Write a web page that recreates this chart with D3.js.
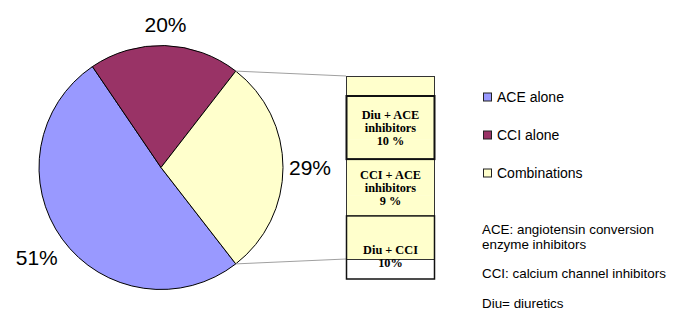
<!DOCTYPE html>
<html>
<head>
<meta charset="utf-8">
<script src="https://cdn.jsdelivr.net/npm/d3@7"></script>
<style>
  body { margin: 0; background: #fff; }
  svg { display: block; font-family: Arial, "Liberation Sans", sans-serif; }
</style>
</head>
<body>
<div id="chart"></div>
<script>
// pie data
const categories = ["ACE alone", "CCI alone", "Combinations"];
const shares = [51, 20, 29];
const colors = ["#9999FF", "#993366", "#FFFFCC"];

// breakdown of the combinations slice
const comboLabels = [["Diu + ACE", "inhibitors", "10 %"], ["CCI + ACE", "inhibitors", "9 %"], ["Diu + CCI", "10%"]];
const comboValues = [10, 9, 10];

const notes = [["ACE: angiotensin conversion", "enzyme inhibitors"], ["CCI: calcium channel inhibitors"], ["Diu= diuretics"]];

const width = 695, height = 336;
const cx = 161, cy = 167.5, r = 122;

const svg = d3.select("#chart").append("svg")
    .attr("width", width)
    .attr("height", height);

// combinations slice is centred on 3 o'clock
const comboShare = shares[2] / d3.sum(shares);
const start = Math.PI / 2 + comboShare * Math.PI;

const pie = d3.pie().sort(null).value(d => d)
    .startAngle(start).endAngle(start + 2 * Math.PI);
const arcs = pie(shares);
const arc = d3.arc().innerRadius(0).outerRadius(r);

const g = svg.append("g").attr("transform", `translate(${cx},${cy})`);

g.selectAll("path")
    .data(arcs)
    .enter()
    .append("path")
    .attr("d", arc)
    .attr("fill", (d, i) => colors[i])
    .attr("stroke", "#000")
    .attr("stroke-width", 1);

// percent labels outside the pie
const labelFont = 21;
g.selectAll("text.pct")
    .data(arcs)
    .enter()
    .append("text")
    .attr("class", "pct")
    .text(d => d.data + "%")
    .attr("font-size", labelFont + "px")
    .attr("text-anchor", "middle")
    .attr("dominant-baseline", "central")
    .each(function(d) {
        const a = (d.startAngle + d.endAngle) / 2;
        const w = this.getComputedTextLength();
        const h = labelFont * 0.72;
        const s = Math.sin(a), c = -Math.cos(a);
        const rr = r + 6 + Math.sqrt(Math.abs(s)) * w / 2 + Math.abs(c) * h * 0.75;
        d3.select(this).attr("x", s * rr).attr("y", c * rr);
    });

// bar of combinations
const barX0 = 346, barX1 = 435;
const total = d3.sum(comboValues);
const y = d3.scaleLinear().domain([0, total]).range([76, 259]);
const cum = [0];
comboValues.forEach(v => cum.push(cum[cum.length - 1] + v));

// connector lines
const comboArc = arcs[2];
[[comboArc.startAngle, 0], [comboArc.endAngle, total]].forEach(([a, v]) => {
    svg.append("line")
        .attr("x1", cx + r * Math.sin(a))
        .attr("y1", cy - r * Math.cos(a))
        .attr("x2", barX0)
        .attr("y2", y(v))
        .attr("stroke", "#a0a0a0")
        .attr("stroke-width", 1);
});

svg.selectAll("rect.seg")
    .data(comboValues)
    .enter()
    .append("rect")
    .attr("class", "seg")
    .attr("x", barX0)
    .attr("y", (d, i) => y(cum[i]))
    .attr("width", barX1 - barX0)
    .attr("height", d => y(d) - y(0))
    .attr("fill", colors[2]);

svg.append("rect")
    .attr("x", barX0 + 0.5)
    .attr("y", y(0) + 0.5)
    .attr("width", barX1 - barX0 - 1)
    .attr("height", y(total) - y(0))
    .attr("fill", "none")
    .attr("stroke", "#333")
    .attr("stroke-width", 1);

// text boxes laid over the bar (shifted down in the original)
const boxShift = 20;
const boxBorder = [2, 0, 1.5];
const textShift = [0, 0, 9];

const boxes = svg.selectAll("g.box")
    .data(comboValues)
    .enter()
    .append("g")
    .attr("class", "box");

boxes.append("rect")
    .attr("x", barX0 + 0.5)
    .attr("y", (d, i) => y(cum[i]) + boxShift)
    .attr("width", barX1 - barX0 - 1)
    .attr("height", d => y(d) - y(0))
    .attr("fill", "none")
    .attr("stroke", (d, i) => boxBorder[i] ? "#111" : "none")
    .attr("stroke-width", (d, i) => boxBorder[i]);

boxes.each(function(d, i) {
    const lines = comboLabels[i];
    const mid = (y(cum[i]) + y(cum[i + 1])) / 2 + boxShift + textShift[i];
    const lh = 13;
    d3.select(this).selectAll("text")
        .data(lines)
        .enter()
        .append("text")
        .text(t => t)
        .attr("x", (barX0 + barX1) / 2)
        .attr("y", (t, j) => mid + (j - (lines.length - 1) / 2) * lh)
        .attr("text-anchor", "middle")
        .attr("dominant-baseline", "central")
        .attr("font-family", "'Liberation Serif', 'Times New Roman', serif")
        .attr("font-weight", "bold")
        .attr("font-size", "12.3px")
        .attr("fill", "#000");
});

// legend
const legend = svg.selectAll("g.legend")
    .data(categories)
    .enter()
    .append("g")
    .attr("class", "legend")
    .attr("transform", (d, i) => `translate(483,${97 + i * 38})`);

legend.append("rect")
    .attr("x", 0.5)
    .attr("y", -4)
    .attr("width", 8)
    .attr("height", 8)
    .attr("fill", (d, i) => colors[i])
    .attr("stroke", "#222")
    .attr("stroke-width", 1);

legend.append("text")
    .text(d => d)
    .attr("x", 14)
    .attr("y", 0)
    .attr("dominant-baseline", "central")
    .attr("font-size", "14px")
    .attr("fill", "#000");

// abbreviation notes
const noteY = [229.5, 273, 303];
notes.forEach((lines, i) => {
    lines.forEach((t, j) => {
        svg.append("text")
            .text(t)
            .attr("x", 482)
            .attr("y", noteY[i] + j * 15)
            .attr("dominant-baseline", "central")
            .attr("font-size", "13.4px")
            .attr("fill", "#000");
    });
});
</script>
</body>
</html>
